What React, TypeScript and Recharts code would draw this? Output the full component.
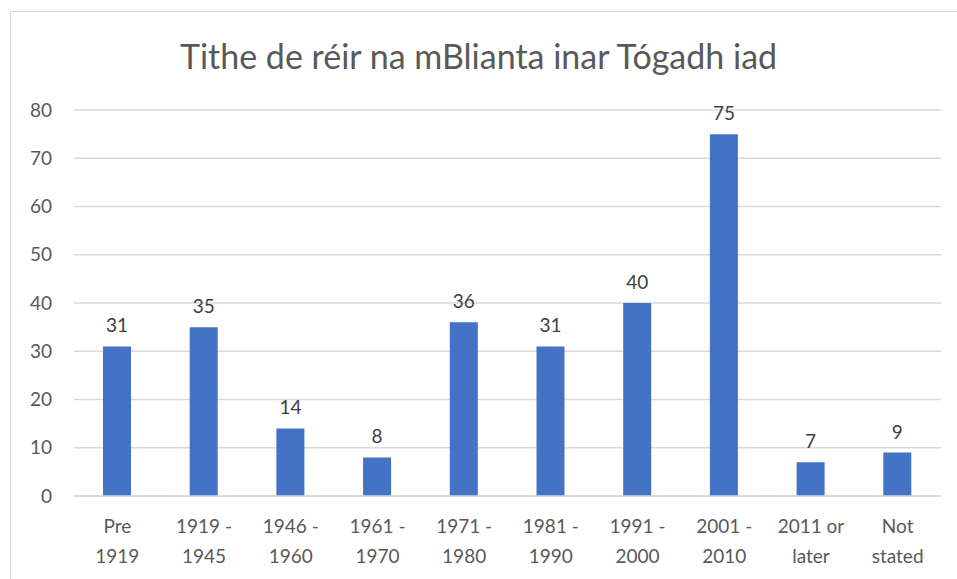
import { BarChart, Bar, XAxis, YAxis, CartesianGrid, LabelList } from "recharts";

const categories = [
  "Pre 1919",
  "1919 - 1945",
  "1946 - 1960",
  "1961 - 1970",
  "1971 - 1980",
  "1981 - 1990",
  "1991 - 2000",
  "2001 - 2010",
  "2011 or later",
  "Not stated",
];
const tickLines = [
  ["Pre", "1919"],
  ["1919 -", "1945"],
  ["1946 -", "1960"],
  ["1961 -", "1970"],
  ["1971 -", "1980"],
  ["1981 -", "1990"],
  ["1991 -", "2000"],
  ["2001 -", "2010"],
  ["2011 or", "later"],
  ["Not", "stated"],
];
const counts = [31, 35, 14, 8, 36, 31, 40, 75, 7, 9];
const yTicks = [0, 10, 20, 30, 40, 50, 60, 70, 80];

const FONT = "Lato, 'Open Sans', sans-serif";
const GREY = "#595959";

const data = categories.map((name, i) => ({ name, value: counts[i] }));

function TwoLineTick(props: any) {
  const { x, y, index } = props;
  const lines = tickLines[index] || [];
  return (
    <text x={x} y={y} textAnchor="middle" fill={GREY} fontSize={19} fontFamily={FONT}>
      {lines.map((l, i) => (
        <tspan key={i} x={x} dy={i === 0 ? 29 : 30}>
          {l}
        </tspan>
      ))}
    </text>
  );
}

export default function App() {
  return (
    <div style={{ position: "absolute", left: 0, top: 0, width: 957, height: 579, background: "#fff", overflow: "hidden" }}>
      <div
        style={{
          position: "absolute",
          left: 10,
          top: 11,
          width: 960,
          height: 600,
          border: "1px solid #d9d9d9",
        }}
      />
      <div
        style={{
          position: "absolute",
          left: 0,
          top: 35,
          width: 957,
          textAlign: "center",
          fontFamily: FONT,
          fontSize: 34,
          color: GREY,
        }}
      >
        Tithe de réir na mBlianta inar Tógadh iad
      </div>
      <div style={{ position: "absolute", left: 0, top: 0 }}>
        <BarChart width={957} height={579} data={data} margin={{ top: 110, right: 16, bottom: 0, left: 0 }}>
          <CartesianGrid vertical={false} stroke="#d9d9d9" strokeWidth={1.5} />
          <XAxis
            dataKey="name"
            axisLine={{ stroke: "#d9d9d9", strokeWidth: 1.5 }}
            tickLine={false}
            tick={<TwoLineTick />}
            interval={0}
            height={83}
          />
          <YAxis
            width={74}
            domain={[0, 80]}
            ticks={yTicks}
            axisLine={false}
            tickLine={false}
            tickSize={0}
            tickMargin={22}
            tick={{ fill: GREY, fontSize: 19, fontFamily: FONT }}
          />
          <Bar dataKey="value" fill="#4472C4" barSize={28} isAnimationActive={false}>
            <LabelList
              dataKey="value"
              position="top"
              offset={14}
              fill="#404040"
              fontSize={19}
              fontFamily={FONT}
            />
          </Bar>
        </BarChart>
      </div>
    </div>
  );
}
